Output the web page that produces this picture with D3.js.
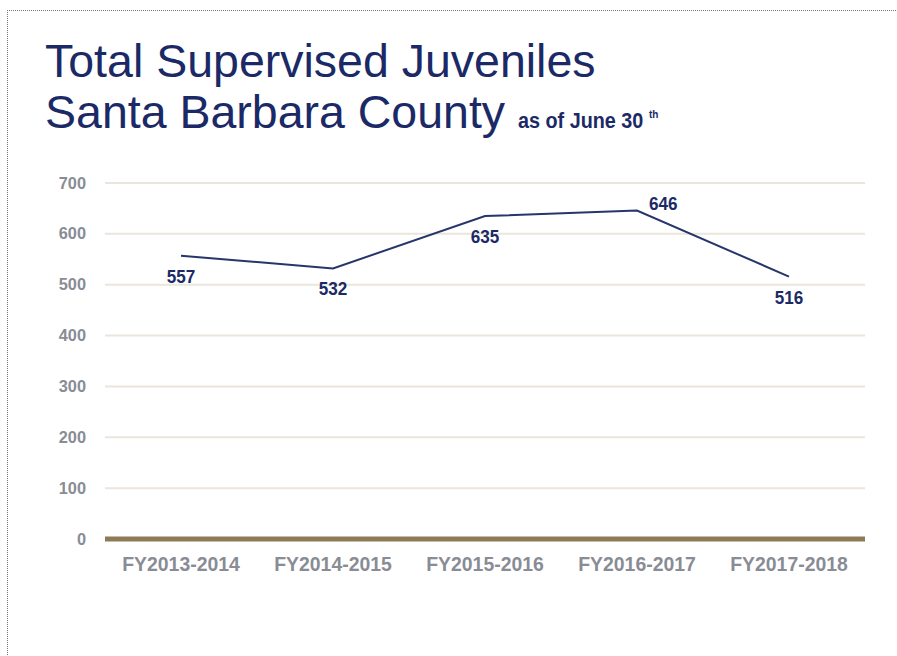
<!DOCTYPE html>
<html>
<head>
<meta charset="utf-8">
<script src="https://cdn.jsdelivr.net/npm/d3@7"></script>
<style>
  body { margin: 0; background: #fff; }
  svg { display: block; }
</style>
</head>
<body>
<svg id="chart" width="897" height="656"></svg>
<script>
// data
var categories = ["FY2013-2014", "FY2014-2015", "FY2015-2016", "FY2016-2017", "FY2017-2018"];
var juveniles = [557, 532, 635, 646, 516];
var yTicks = [0, 100, 200, 300, 400, 500, 600, 700];
// where each value label sits relative to its point
var labelSide = ["below", "below", "below", "right", "below"];

var sans = "'Liberation Sans', Arial, sans-serif";
var navy = "#1b2a66";
var gray = "#898c95";

// squeeze text horizontally to imitate the condensed face of the original
function narrow(sel, factor) {
    sel.each(function() {
        var w = this.getComputedTextLength();
        d3.select(this).attr("textLength", w * factor).attr("lengthAdjust", "spacingAndGlyphs");
    });
}

var svg = d3.select("#chart");

// dotted frame (top and left edges only visible)
svg.append("line").attr("x1", 7).attr("x2", 897).attr("y1", 10.5).attr("y2", 10.5)
    .attr("stroke", "#777").attr("stroke-dasharray", "1,1");
svg.append("line").attr("x1", 7.5).attr("x2", 7.5).attr("y1", 10).attr("y2", 656)
    .attr("stroke", "#777").attr("stroke-dasharray", "1,1");

// title
svg.append("text").attr("x", 45).attr("y", 77)
    .style("font-family", sans)
    .style("font-size", "46.5px").style("fill", navy)
    .text("Total Supervised Juveniles");
svg.append("text").attr("x", 45).attr("y", 128)
    .style("font-family", sans)
    .style("font-size", "46.5px").style("fill", navy)
    .text("Santa Barbara County");
// subtitle squeezed with a transform so it stays condensed
var subG = svg.append("g").attr("transform", "translate(518,128) scale(0.9,1)");
subG.append("text")
    .style("font-family", sans).style("font-size", "22px")
    .style("font-weight", "bold").style("fill", navy)
    .text("as of June 30");
svg.append("text").attr("x", 649).attr("y", 118)
    .style("font-family", sans).style("font-size", "10px")
    .style("font-weight", "bold").style("fill", navy)
    .text("th");

var x = d3.scaleBand().domain(categories).range([105, 865]);
var y = d3.scaleLinear().domain([0, 700]).range([539, 183]);

// gridlines
svg.append("g").selectAll("line")
    .data(yTicks.filter(function(d) { return d > 0; }))
    .enter().append("line")
    .attr("x1", 105).attr("x2", 865)
    .attr("y1", function(d) { return y(d); })
    .attr("y2", function(d) { return y(d); })
    .attr("stroke", "#ebe6dc").attr("stroke-width", 2);

// y axis labels
var yAxis = svg.append("g").attr("transform", "translate(86,0)")
    .call(d3.axisLeft(y).tickValues(yTicks).tickSize(0).tickPadding(0));
yAxis.select(".domain").remove();
yAxis.selectAll("text")
    .style("font-family", sans).style("font-weight", "bold")
    .style("font-size", "16px").style("fill", gray);
narrow(yAxis.selectAll("text"), 1.02);

// zero baseline
svg.append("line").attr("x1", 105).attr("x2", 865)
    .attr("y1", y(0)).attr("y2", y(0))
    .attr("stroke", "#8b7b57").attr("stroke-width", 5);

// x axis labels
var xAxis = svg.append("g").attr("transform", "translate(0," + (y(0) + 14) + ")")
    .call(d3.axisBottom(x).tickSize(0).tickPadding(4));
xAxis.select(".domain").remove();
xAxis.selectAll("text")
    .style("font-family", sans).style("font-weight", "bold")
    .style("font-size", "20px").style("fill", gray);
narrow(xAxis.selectAll("text"), 0.97);

// line
var line = d3.line()
    .x(function(d, i) { return x(categories[i]) + x.bandwidth() / 2; })
    .y(function(d) { return y(d); });
svg.append("path").datum(juveniles)
    .attr("d", line)
    .attr("fill", "none").attr("stroke", "#26356a").attr("stroke-width", 2);

// value labels
var vals = svg.append("g").selectAll("text")
    .data(juveniles)
    .enter().append("text")
    .attr("x", function(d, i) {
        var cx = x(categories[i]) + x.bandwidth() / 2;
        return labelSide[i] === "right" ? cx + 12 : cx;
    })
    .attr("y", function(d, i) {
        return labelSide[i] === "right" ? y(d) : y(d) + 27;
    })
    .attr("text-anchor", function(d, i) { return labelSide[i] === "right" ? "start" : "middle"; })
    .style("font-family", sans).style("font-weight", "bold")
    .style("font-size", "19px").style("fill", navy)
    .text(function(d) { return d; });
narrow(vals, 0.9);
</script>
</body>
</html>
